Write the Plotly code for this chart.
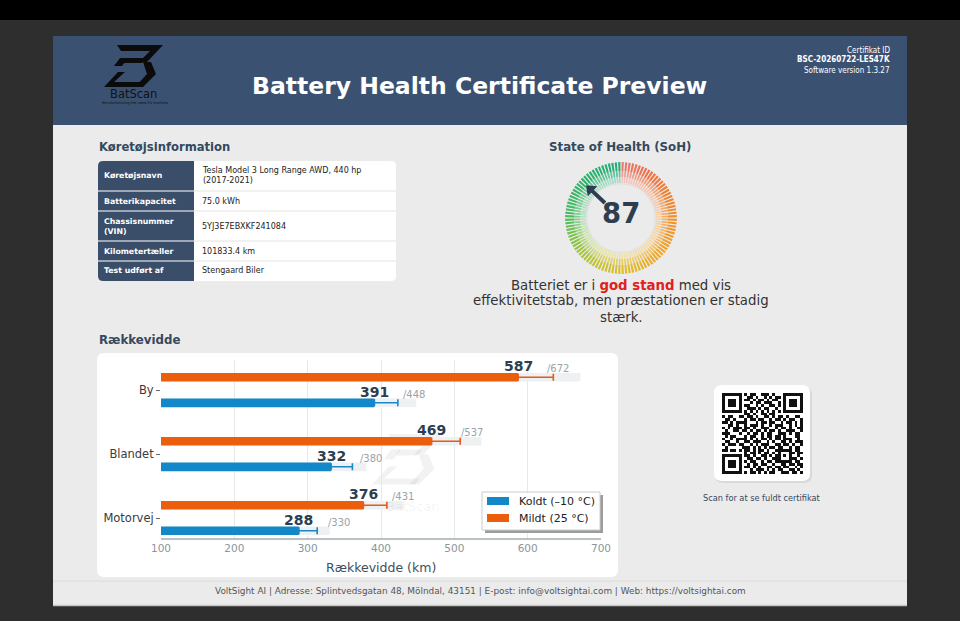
import plotly.graph_objects as go

# ------------------------------------------------------------------ data
categories = ["By", "Blandet", "Motorvej"]
series_names = ["Koldt (–10 °C)", "Mildt (25 °C)"]
range_cold = [391, 332, 288]
range_mild = [587, 469, 376]
max_cold = [448, 380, 330]
max_mild = [672, 537, 431]
err_cold = [32, 29, 25]
err_mild = [48, 39, 32]
x_ticks = [100, 200, 300, 400, 500, 600, 700]
soh_value = 87

info_labels = ["Køretøjsnavn", "Batterikapacitet", "Chassisnummer<br>(VIN)",
               "Kilometertæller", "Test udført af"]
info_values = ["Tesla Model 3 Long Range AWD, 440 hp<br>(2017-2021)", "75.0 kWh",
               "5YJ3E7EBXKF241084", "101833.4 km", "Stengaard Biler"]

qr_rows = [
    "11111110101100111010001111111",
    "10000010011010010101101000001",
    "10111010110101101011001011101",
    "10111010001011011100101011101",
    "10111010110010100110101011101",
    "10000010011101011001001000001",
    "11111110101010101010101111111",
    "00000000110100110110000000000",
    "10110011011010011010110100110",
    "01101000101101100101101011001",
    "11010111100010110110010110101",
    "00110100101110100101110010101",
    "10101110110100111001011010011",
    "01001101101011010110100111001",
    "11100010010110101100111010110",
    "01011000101100101101101000110",
    "10010111101010110101101110010",
    "01100100110111001010011010111",
    "10111011001010111001101101001",
    "01000001110101010110110010110",
    "11011010110101101001111110110",
    "00000000101101011010100011011",
    "11111110110100110101101010010",
    "10000010011011010011100011101",
    "10111010101100101101111110110",
    "10111010010110110010011011011",
    "10111010110101001101101100101",
    "10000010001011101010110011010",
    "11111110101101010110011101101",
]

# ------------------------------------------------------------------ style
W, H = 960, 621
FONT = "DejaVu Sans"
NAVY = "#2c3e50"
TITLE_C = "#34495e"
HEADER = "#3b5172"
BODY = "#ebebeb"
BLUE = "#1487c9"
ORANGE = "#ea5e0c"

shapes, ann = [], []


def X(x):
    return x / W


def Y(y):
    return 1 - y / H


def path_shape(d, fill, lw=0, lc=None, opacity=1, layer="below"):
    shapes.append(dict(type="path", xref="paper", yref="paper", path=d,
                       fillcolor=fill, line=dict(width=lw, color=lc or fill),
                       layer=layer, opacity=opacity))


def rect(x0, y0, x1, y1, fill, lw=0, lc=None, layer="below"):
    shapes.append(dict(type="rect", xref="paper", yref="paper",
                       x0=X(x0), x1=X(x1), y0=Y(y1), y1=Y(y0),
                       fillcolor=fill, line=dict(width=lw, color=lc or fill),
                       layer=layer))


def rrect(x0, y0, x1, y1, r, fill, lw=0, lc=None, layer="below"):
    d = (f"M{X(x0+r)},{Y(y0)} L{X(x1-r)},{Y(y0)} Q{X(x1)},{Y(y0)} {X(x1)},{Y(y0+r)} "
         f"L{X(x1)},{Y(y1-r)} Q{X(x1)},{Y(y1)} {X(x1-r)},{Y(y1)} "
         f"L{X(x0+r)},{Y(y1)} Q{X(x0)},{Y(y1)} {X(x0)},{Y(y1-r)} "
         f"L{X(x0)},{Y(y0+r)} Q{X(x0)},{Y(y0)} {X(x0+r)},{Y(y0)} Z")
    path_shape(d, fill, lw, lc, layer=layer)


def poly(pts, fill, opacity=1):
    d = "M" + " L".join(f"{X(x)},{Y(y)}" for x, y in pts) + " Z"
    path_shape(d, fill, opacity=opacity)


def hline(x0, x1, y, color, w=1):
    shapes.append(dict(type="line", xref="paper", yref="paper",
                       x0=X(x0), x1=X(x1), y0=Y(y), y1=Y(y),
                       line=dict(color=color, width=w), layer="below"))


def text(x, y, s, size, color, bold=False, xa="center", ya="middle", family=FONT):
    if bold:
        s = f"<b>{s}</b>"
    ann.append(dict(x=X(x), y=Y(y), xref="paper", yref="paper", text=s,
                    showarrow=False, xanchor=xa, yanchor=ya,
                    align=xa if xa in ("left", "right") else "center",
                    font=dict(family=family, size=size, color=color)))


LOGO = [
    [(13, 0), (59, 0), (43, 17), (35, 17), (46, 6), (17, 6)],
    [(16, 13), (24, 13), (18, 21), (10, 21)],
    [(22, 13), (42, 13), (38, 18), (20, 18)],
    [(39, 17), (47, 17), (52, 29), (39, 42), (31, 42), (43, 29)],
    [(0, 42), (14, 27), (21, 27), (10, 37), (40, 37), (36, 42)],
]


def logo(ox, oy, s, fill, opacity=1):
    for p in LOGO:
        poly([(ox + s * x, oy + s * y) for x, y in p], fill, opacity)


# ------------------------------------------------------------------ page frame
rect(0, 0, 960, 20, "#000000")
rect(53, 36, 907, 606, BODY)
rect(53, 36, 907, 125, HEADER)
hline(53, 907, 581, "#dcdcdc", 1)
hline(53, 907, 605.5, "#c4c4c4", 1.5)

# header
logo(104, 45, 1, "#0b0b0b")
text(133, 93.5, "BatScan", 11.5, "#111111")
text(134.5, 103.5, "Revolutionizing the used EV markets", 3.6, "#111111")
text(479.5, 86, "Battery Health Certificate Preview", 23.5, "#ffffff", bold=True)
CF = "DejaVu Sans Condensed, DejaVu Sans"
text(892, 50, "Certifikat ID", 8, "#ffffff", xa="right", family=CF)
text(892, 60, "BSC-20260722-LES47K", 8, "#ffffff", bold=True, xa="right", family=CF)
text(892, 70, "Software version 1.3.27", 8, "#ffffff", xa="right", family=CF)

# ------------------------------------------------------------------ vehicle table
text(97, 147, "Køretøjsinformation", 11.6, TITLE_C, bold=True, xa="left")
tx0, tmid, tx1, ty = 98, 194, 396, 161
row_h = [10 + 10 * (max(a.count("<br>"), b.count("<br>")) + 1)
         for a, b in zip(info_labels, info_values)]
ty_end = ty + sum(row_h)
rrect(tx0, ty, tx1, ty_end, 5, "#ffffff")
rrect(tx0, ty, tmid + 6, ty_end, 5, "#3a4e6a")
rect(tmid, ty, tmid + 6, ty_end, "#ffffff")
y = ty
for i, (lab, val) in enumerate(zip(info_labels, info_values)):
    yc = y + row_h[i] / 2
    text(102, yc, lab, 7.8, "#ffffff", bold=True, xa="left")
    text(200, yc, val, 8, "#222222", xa="left")
    y += row_h[i]
    if i < len(info_labels) - 1:
        hline(tx0, tmid, y, "#ffffff", 1.2)
        hline(tmid, tx1, y, "#e4e4e4", 1.2)

# ------------------------------------------------------------------ gauge
text(620, 147, "State of Health (SoH)", 11.8, TITLE_C, bold=True)
text(620.5, 213, str(soh_value), 27.5, NAVY, bold=True)
text(621, 285, "Batteriet er i <span style='color:#e0201c'><b>god stand</b></span> med vis",
     13.3, "#333333")
text(621, 301, "effektivitetstab, men præstationen er stadig", 13.3, "#333333")
text(621, 317, "stærk.", 13.3, "#333333")

stops = [(0.0, (234, 120, 112)), (0.08, (238, 112, 72)), (0.22, (242, 138, 44)),
         (0.36, (240, 165, 40)), (0.48, (226, 186, 42)), (0.58, (198, 196, 52)),
         (0.67, (140, 196, 66)), (0.76, (70, 188, 96)), (0.9, (42, 178, 112)),
         (1.0, (36, 172, 122))]


def grad(f, white):
    for (f0, c0), (f1, c1) in zip(stops[:-1], stops[1:]):
        if f0 <= f <= f1:
            t = (f - f0) / (f1 - f0)
            c = [c0[k] + (c1[k] - c0[k]) * t for k in range(3)]
            break
    c = [v + (255 - v) * white for v in c]
    return "rgb(%d,%d,%d)" % tuple(int(round(v)) for v in c)


n_ticks = 100
thetas = [(i + 0.5) * 360 / n_ticks for i in range(n_ticks)]
fig = go.Figure()
fig.add_trace(go.Barpolar(r=[1.0], base=[33.8], theta=[180], width=[360],
                          marker=dict(color="#dedede", line_width=0),
                          showlegend=False, hoverinfo="skip"))
for base, rr, white in [(35, 6, 0.55), (41, 6, 0.28), (47, 9, 0.0)]:
    fig.add_trace(go.Barpolar(
        r=[rr] * n_ticks, base=[base] * n_ticks, theta=thetas, width=[2.3] * n_ticks,
        marker=dict(color=[grad((i + 0.5) / n_ticks, white) for i in range(n_ticks)],
                    line_width=0),
        showlegend=False, hoverinfo="skip"))
ang = soh_value / 100 * 360
fig.add_trace(go.Scatterpolar(r=[22, 40], theta=[ang, ang], mode="lines",
                              line=dict(color=NAVY, width=4),
                              showlegend=False, hoverinfo="skip"))
fig.add_trace(go.Scatterpolar(r=[42], theta=[ang], mode="markers",
                              marker=dict(symbol="triangle-up", size=12, angle=ang,
                                          color=NAVY),
                              showlegend=False, hoverinfo="skip"))

# ------------------------------------------------------------------ range chart
text(97, 340, "Rækkevidde", 11.8, TITLE_C, bold=True, xa="left")
rrect(97, 353, 618, 577, 7, "#ffffff")
logo(372, 434, 1.2, "#000000", 0.05)
text(413, 506, "BatScan", 13, "rgba(0,0,0,0.06)")
text(404, 516, "Revolutionizing the used EV markets", 4.5, "rgba(0,0,0,0.06)")

cat_y = [len(categories) - 1 - i for i in range(len(categories))]
y_mild = [c + 0.2 for c in cat_y]
y_cold = [c - 0.2 for c in cat_y]
BW = 0.135
for xs, ys in [(max_mild, y_mild), (max_cold, y_cold)]:
    fig.add_trace(go.Bar(x=xs, y=ys, orientation="h", width=BW,
                         marker=dict(color="#edf1f1", line_width=0),
                         showlegend=False, hoverinfo="skip"))
fig.add_trace(go.Bar(x=range_cold, y=y_cold, orientation="h", width=BW,
                     name=series_names[0], marker=dict(color=BLUE, line_width=0),
                     showlegend=False,
                     error_x=dict(type="data", symmetric=False, array=err_cold,
                                  arrayminus=[0] * len(err_cold), color="#1a87c8",
                                  thickness=1.6, width=3.5)))
fig.add_trace(go.Bar(x=range_mild, y=y_mild, orientation="h", width=BW,
                     name=series_names[1], marker=dict(color=ORANGE, line_width=0),
                     showlegend=False,
                     error_x=dict(type="data", symmetric=False, array=err_mild,
                                  arrayminus=[0] * len(err_mild), color="#e8581a",
                                  thickness=1.6, width=3.5)))

for vals, maxs, ys in [(range_mild, max_mild, y_mild), (range_cold, max_cold, y_cold)]:
    for v, m, yy in zip(vals, maxs, ys):
        ann.append(dict(x=v, y=yy, xref="x", yref="y", text=f"<b>{v}</b>",
                        showarrow=False, xanchor="center", yanchor="bottom", yshift=1,
                        font=dict(family=FONT, size=14, color=NAVY)))
        ann.append(dict(x=v, y=yy, xref="x", yref="y", text=f"/{m}",
                        showarrow=False, xanchor="left", yanchor="bottom",
                        xshift=27, yshift=1,
                        font=dict(family=FONT, size=10, color="#9aa3a8")))
text(381, 567, "Rækkevidde (km)", 12.5, "#3d4f60")

# legend (drawn as a boxed key)
rect(485, 495, 603, 533, "#9c9c9c", layer="above")
rect(482, 492, 600, 530, "#ffffff", lw=1, lc="#cccccc", layer="above")
for k, (nm, col) in enumerate(zip(series_names, [BLUE, ORANGE])):
    yk = 501 + 17 * k
    rect(487, yk - 4, 509, yk + 4, col, layer="above")
    text(517, yk, nm, 11, "#222222", xa="left")

# ------------------------------------------------------------------ QR
rrect(715, 387, 812, 483, 8, "#d9d9d9")
rrect(714, 385, 810, 481, 8, "#ffffff")
qr = [[int(ch) for ch in (r + "0" * 29)[:29]] for r in qr_rows]
fig.add_trace(go.Heatmap(z=qr, xaxis="x2", yaxis="y2", showscale=False,
                         colorscale=[[0, "#ffffff"], [1, "#111111"]],
                         hoverinfo="skip"))
text(762, 498, "Scan for at se fuldt certifikat", 8.2, TITLE_C)

# footer
text(480, 591, "VoltSight AI | Adresse: Splintvedsgatan 48, Mölndal, 43151 | "
     "E-post: info@voltsightai.com | Web: https://voltsightai.com", 8.9, "#555555")

# ------------------------------------------------------------------ layout
fig.update_layout(
    template="none",
    width=W, height=H,
    margin=dict(l=0, r=0, t=0, b=0),
    paper_bgcolor="#2e2e2e",
    plot_bgcolor="rgba(0,0,0,0)",
    barmode="overlay",
    hovermode=False,
    showlegend=False,
    font=dict(family=FONT),
    shapes=shapes,
    annotations=ann,
    xaxis=dict(domain=[X(161), X(601)], range=[100, 700], tickvals=x_ticks,
               showgrid=True, gridcolor="#e8e8e8", gridwidth=1, zeroline=False,
               showline=True, linecolor="#b9c1c5", linewidth=1.5, ticks="",
               tickfont=dict(size=10.5, color="#8a969c"), anchor="y"),
    yaxis=dict(domain=[Y(538), Y(360)], range=[-0.3125, 2.469], tickvals=cat_y,
               ticktext=categories, ticks="outside", ticklen=4, tickcolor="#666666",
               tickfont=dict(size=11.5, color="#3a3a3a"), showgrid=False,
               zeroline=False, showline=False, anchor="x"),
    xaxis2=dict(domain=[X(722), X(803)], range=[-0.5, 28.5], visible=False, anchor="y2"),
    yaxis2=dict(domain=[Y(474), Y(393)], range=[28.5, -0.5], visible=False, anchor="x2"),
    polar=dict(domain=dict(x=[X(565), X(677)], y=[Y(274), Y(162)]),
               bgcolor="rgba(0,0,0,0)",
               radialaxis=dict(visible=False, range=[0, 56]),
               angularaxis=dict(visible=False, rotation=90, direction="clockwise")),
)

fig.write_html("out.html",
               config={"displayModeBar": False, "staticPlot": True},
               post_script="document.body.style.margin='0';"
                           "document.body.style.overflow='hidden';")
